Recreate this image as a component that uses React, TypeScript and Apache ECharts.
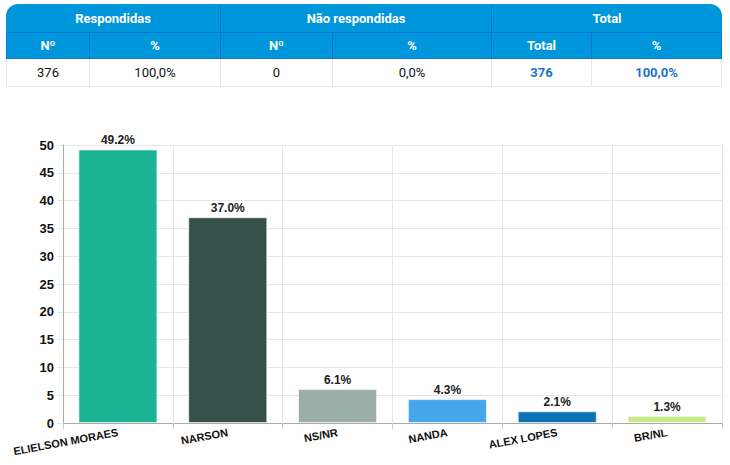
import React, { useEffect, useRef } from "react";
import * as echarts from "echarts";

const categories = ["ELIELSON MORAES", "NARSON", "NS/NR", "NANDA", "ALEX LOPES", "BR/NL"];
const values = [49.2, 37.0, 6.1, 4.3, 2.1, 1.3];
const barColors = ["#1bb394", "#36504a", "#9aafa8", "#46a6ec", "#0c72b6", "#c8ea8b"];

const groupHeaders = ["Respondidas", "Não respondidas", "Total"];
const subHeaders = ["Nº", "%", "Nº", "%", "Total", "%"];
const rowValues = ["376", "100,0%", "0", "0,0%", "376", "100,0%"];

const colEdges = [6, 89, 220, 332, 491, 591, 722];

const HEAD = "#0096dc";
const LINE = "#0a74d8";

function Table() {
  const font = "Roboto, 'Liberation Sans', Arial, sans-serif";
  const cells: React.ReactNode[] = [];
  const groupSpans = [[0, 2], [2, 4], [4, 6]];
  groupSpans.forEach(([a, b], i) => {
    cells.push(
      <div
        key={"g" + i}
        style={{
          position: "absolute",
          left: colEdges[a],
          width: colEdges[b] - colEdges[a],
          top: 4,
          height: 28,
          background: HEAD,
          color: "#fff",
          fontWeight: 700,
          fontSize: 13,
          display: "flex",
          alignItems: "center",
          justifyContent: "center",
          borderLeft: i > 0 ? `1px solid ${LINE}` : "none",
          borderTopLeftRadius: i === 0 ? 12 : 0,
          borderTopRightRadius: i === 2 ? 12 : 0,
          boxSizing: "border-box",
        }}
      >
        {groupHeaders[i]}
      </div>
    );
  });
  subHeaders.forEach((t, i) => {
    cells.push(
      <div
        key={"s" + i}
        style={{
          position: "absolute",
          left: colEdges[i],
          width: colEdges[i + 1] - colEdges[i],
          top: 32,
          height: 27,
          background: HEAD,
          color: "#fff",
          fontWeight: 700,
          fontSize: 13,
          display: "flex",
          alignItems: "center",
          justifyContent: "center",
          borderTop: `1px solid ${LINE}`,
          borderBottom: `1px solid ${LINE}`,
          borderLeft: `1px solid ${LINE}`,
          borderRight: i === 5 ? `1px solid ${LINE}` : "none",
          boxSizing: "border-box",
        }}
      >
        {t}
      </div>
    );
  });
  rowValues.forEach((t, i) => {
    cells.push(
      <div
        key={"r" + i}
        style={{
          position: "absolute",
          left: colEdges[i],
          width: colEdges[i + 1] - colEdges[i],
          top: 59,
          height: 28,
          background: "#fff",
          color: i >= 4 ? "#1a73c8" : "#111",
          fontWeight: i >= 4 ? 700 : 400,
          fontSize: 13,
          display: "flex",
          alignItems: "center",
          justifyContent: "center",
          borderBottom: "1px solid #e3e6ea",
          borderLeft: "1px solid #e3e6ea",
          borderRight: i === 5 ? "1px solid #e3e6ea" : "none",
          boxSizing: "border-box",
        }}
      >
        {t}
      </div>
    );
  });
  return <div style={{ position: "absolute", left: 0, top: 0, width: 730, height: 100, fontFamily: font }}>{cells}</div>;
}

export default function App() {
  const ref = useRef<HTMLDivElement>(null);
  useEffect(() => {
    if (!ref.current) return;
    const chart = echarts.init(ref.current, undefined, { renderer: "svg" });
    chart.setOption({
      animation: false,
      textStyle: { fontFamily: "'Liberation Sans', Arial, sans-serif" },
      grid: { left: 63, right: 8, top: 45, bottom: 42 },
      xAxis: {
        type: "category",
        data: categories,
        axisLine: { show: true, lineStyle: { color: "#aaaaaa" } },
        axisTick: { show: true, length: 6, lineStyle: { color: "#cccccc" } },
        splitLine: { show: true, lineStyle: { color: "#e6e6e6" } },
        axisLabel: {
          rotate: 10.5,
          interval: 0,
          margin: 9,
          color: "#111",
          fontWeight: "bold",
          fontSize: 11,
        },
      },
      yAxis: {
        type: "value",
        min: 0,
        max: 50,
        interval: 5,
        axisLine: { show: true, lineStyle: { color: "#aaaaaa" } },
        axisTick: { show: true, length: 6, lineStyle: { color: "#e6e6e6" } },
        splitLine: { show: true, lineStyle: { color: "#e6e6e6" } },
        axisLabel: { color: "#111", fontWeight: "bold", fontSize: 13, margin: 9 },
      },
      series: [
        {
          type: "bar",
          barWidth: "72%",
          data: values.map((v, i) => ({
            value: v,
            itemStyle: { color: barColors[i], borderColor: "rgba(255,255,255,0.6)", borderWidth: 1 },
          })),
          label: {
            show: true,
            position: "top",
            distance: 3,
            color: "#222",
            fontWeight: "bold",
            fontSize: 12,
            formatter: (p: any) => Number(p.value).toFixed(1) + "%",
          },
        },
      ],
    });
    return () => chart.dispose();
  }, []);
  return (
    <div style={{ position: "fixed", left: 0, top: 0, width: 730, height: 465, background: "#fff" }}>
      <Table />
      <div ref={ref} style={{ position: "absolute", left: 0, top: 100, width: 730, height: 365 }} />
    </div>
  );
}
